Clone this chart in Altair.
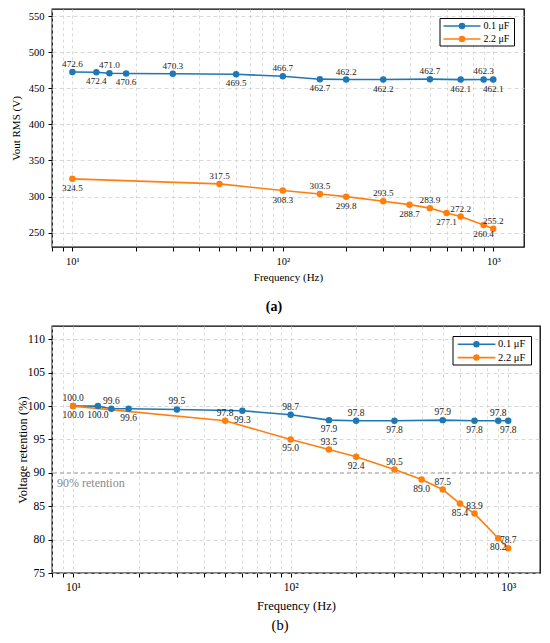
import altair as alt
import pandas as pd

FONT = "'Liberation Serif', 'Times New Roman', serif"
SERIES = ["0.1 μF", "2.2 μF"]
COLORS = ["#1f77b4", "#ff7f0e"]

# (a) Vout RMS
freq_01 = [10, 13, 15, 18, 30, 60, 100, 150, 200, 300, 500, 700, 900, 1000]
vout_01 = [472.6, 472.4, 471.0, 470.6, 470.3, 469.5, 466.7, 462.7, 462.2, 462.2, 462.7, 462.1, 462.3, 462.1]
freq_22 = [10, 50, 100, 150, 200, 300, 400, 500, 600, 700, 900, 1000]
vout_22 = [324.5, 317.5, 308.3, 303.5, 299.8, 293.5, 288.7, 283.9, 277.1, 272.2, 260.4, 255.2]

# (b) Voltage retention
ret_01 = [100.0, 100.0, 99.6, 99.6, 99.5, 99.3, 98.7, 97.9, 97.8, 97.8, 97.9, 97.8, 97.8, 97.8]
ret_22 = [100.0, 97.8, 95.0, 93.5, 92.4, 90.5, 89.0, 87.5, 85.4, 83.9, 80.2, 78.7]

X_TICKS = [8, 9, 10, 20, 30, 40, 50, 60, 70, 80, 90, 100, 200, 300, 400, 500,
           600, 700, 800, 900, 1000]
Y_TICKS_A = [250, 300, 350, 400, 450, 500, 550]
Y_TICKS_B = [75, 80, 85, 90, 95, 100, 105, 110]


def make_df(f1, v1, f2, v2):
    rows = []
    for i, (f, v) in enumerate(zip(f1, v1)):
        rows.append({"f": f, "v": v, "s": SERIES[0], "above": i % 2 == 0})
    for i, (f, v) in enumerate(zip(f2, v2)):
        rows.append({"f": f, "v": v, "s": SERIES[1], "above": i % 2 == 1})
    return pd.DataFrame(rows)


LABEL_EXPR = ("datum.value == 10 ? '10\u00b9' : datum.value == 100 ? '10\u00b2' : "
              "datum.value == 1000 ? '10\u00b3' : ''")


def panel(df, ytitle, ydomain, yticks, width, height, st, leg, caption, extra=None):
    x = alt.X("f:Q", scale=alt.Scale(type="log", domain=[8, 1400], nice=False),
              axis=alt.Axis(values=X_TICKS, labelExpr=LABEL_EXPR, title="Frequency (Hz)",
                            grid=True, gridColor="#cfcfcf", gridDash=[3, 3], gridWidth=0.8,
                            domain=False, ticks=True, tickColor="black", tickSize=4, tickWidth=1,
                            labelFont=FONT, titleFont=FONT, labelFontSize=st["tick"],
                            titleFontSize=st["title"], titleFontWeight="normal",
                            labelColor="black", titleColor="black", labelFlush=False,
                            labelOverlap=False, labelPadding=st["xlp"], titlePadding=st["xtp"]))
    y = alt.Y("v:Q", scale=alt.Scale(domain=ydomain, nice=False, zero=False),
              axis=alt.Axis(values=yticks, title=ytitle, grid=True, gridColor="#cfcfcf",
                            gridDash=[4, 3], gridWidth=0.8, domain=False, tickColor="black",
                            tickSize=4, tickWidth=1, labelFont=FONT, titleFont=FONT,
                            labelFontSize=st["tick"], titleFontSize=st["title"],
                            titleFontWeight="normal", labelColor="black", titleColor="black",
                            labelPadding=st["ylp"], titlePadding=st["ytp"]))
    color = alt.Color("s:N", scale=alt.Scale(domain=SERIES, range=COLORS), legend=None)

    base = alt.Chart(df)
    layers = []
    if extra is not None:
        layers.extend(extra(x, y))
    layers.append(base.mark_line(strokeWidth=1.6).encode(x=x, y=y, color=color))
    layers.append(base.mark_circle(size=42, opacity=1).encode(x=x, y=y, color=color))
    layers.append(base.transform_filter("datum.above").mark_text(
        dy=-8, fontSize=st["lab"], font=FONT, color="#222", baseline="middle").encode(
        x=x, y=y, text=alt.Text("v:Q", format=".1f")))
    layers.append(base.transform_filter("!datum.above").mark_text(
        dy=9, fontSize=st["lab"], font=FONT, color="#222", baseline="middle").encode(
        x=x, y=y, text=alt.Text("v:Q", format=".1f")))

    # legend box
    one = pd.DataFrame({"k": [0]})
    layers.append(alt.Chart(one).mark_rect(fill="white", stroke="black", strokeWidth=1).encode(
        x=alt.value(leg["bx0"]), x2=alt.value(leg["bx1"]),
        y=alt.value(leg["by0"]), y2=alt.value(leg["by1"])))
    for name, col, ry in zip(SERIES, COLORS, leg["rows"]):
        d = pd.DataFrame({"s": [name]})
        layers.append(alt.Chart(d).mark_rule(color=col, strokeWidth=1.6).encode(
            x=alt.value(leg["lx0"]), x2=alt.value(leg["lx1"]), y=alt.value(ry)))
        layers.append(alt.Chart(d).mark_circle(color=col, size=42, opacity=1).encode(
            x=alt.value(leg["dx"]), y=alt.value(ry)))
        layers.append(alt.Chart(d).mark_text(align="left", baseline="middle", font=FONT,
                                             fontSize=leg["fs"], color="black").encode(
            x=alt.value(leg["tx"]), y=alt.value(ry), text="s:N"))

    return alt.layer(*layers).properties(
        width=width, height=height,
        title=alt.TitleParams(caption["text"], orient="bottom", anchor="middle", frame="group",
                              font=FONT, fontSize=caption["fs"], fontWeight=caption["fw"],
                              color="black", offset=caption["off"], dx=caption["dx"]))


def retention_extra(x, y):
    d = pd.DataFrame({"v": [90], "t": ["90% retention"]})
    rule = alt.Chart(d).mark_rule(color="#a8a8a8", strokeDash=[4, 3], strokeWidth=1).encode(y=y)
    txt = alt.Chart(d).mark_text(align="left", baseline="middle", font=FONT, fontSize=12,
                                 color="#8a8a8a", dy=10).encode(
        x=alt.value(5), y=y, text="t:N")
    return [rule, txt]


df_a = make_df(freq_01, vout_01, freq_22, vout_22)
df_b = make_df(freq_01, ret_01, freq_22, ret_22)

top = panel(
    df_a, "Vout RMS (V)", [230, 560], Y_TICKS_A, 472, 238,
    {"tick": 10.5, "title": 11, "lab": 9.2, "xlp": 5, "xtp": 4.5, "ylp": 4, "ytp": 7},
    {"bx0": 388, "bx1": 462.5, "by0": 9.5, "by1": 37, "rows": [17, 30],
     "lx0": 391.5, "lx1": 428.5, "dx": 410, "tx": 431.5, "fs": 10},
    {"text": "(a)", "fs": 14, "fw": "bold", "off": 17.5, "dx": -14},
)

bottom = panel(
    df_b, "Voltage retention (%)", [75, 112], Y_TICKS_B, 488, 247,
    {"tick": 11.5, "title": 12.5, "lab": 9.5, "xlp": 4, "xtp": 7, "ylp": 3.6, "ytp": -2.2},
    {"bx0": 401, "bx1": 479.5, "by0": 10.5, "by1": 39, "rows": [18.3, 31.6],
     "lx0": 405.7, "lx1": 443.4, "dx": 424.4, "tx": 446, "fs": 10.5},
    {"text": "(b)", "fs": 14.5, "fw": "normal", "off": 7, "dx": -16},
    extra=retention_extra,
)

chart = alt.vconcat(top, bottom, spacing=10).properties(
    padding={"left": 1, "top": 0, "right": 0, "bottom": 0}
).configure_view(stroke="black", strokeWidth=1.3)

chart.save("out.html", embed_options={"renderer": "svg", "actions": False})
